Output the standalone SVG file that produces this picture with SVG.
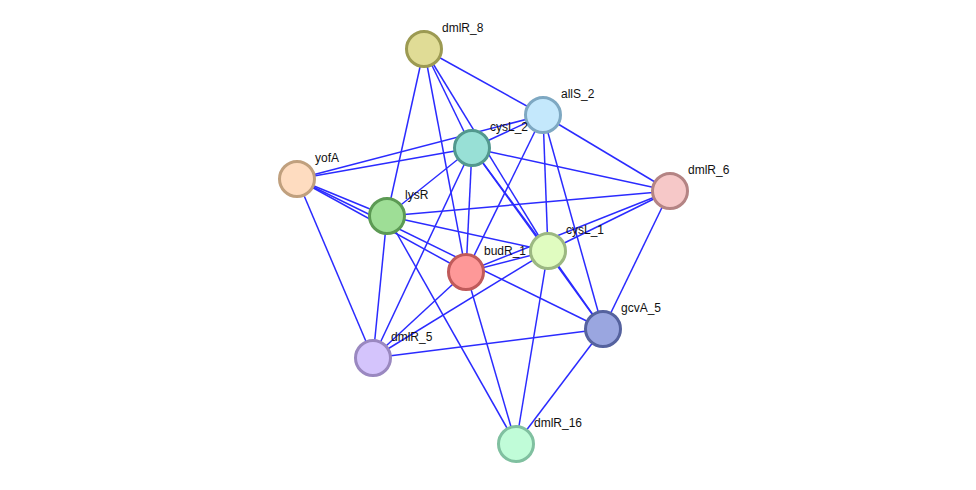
<svg xmlns="http://www.w3.org/2000/svg" width="976" height="490" viewBox="0 0 976 490">
<style>
.e{stroke:#2b2bff;stroke-width:1.5;fill:none}
.n{stroke-width:3}
.t{font-family:"Liberation Sans",Arial,sans-serif;font-size:12px;fill:#111}
</style>
<rect width="976" height="490" fill="#fff"/>
<g id="edges">
<line class="e" x1="424" y1="49" x2="543" y2="115"/>
<line class="e" x1="424" y1="49" x2="472" y2="148"/>
<line class="e" x1="424" y1="49" x2="387" y2="216"/>
<line class="e" x1="424" y1="49" x2="466" y2="272"/>
<line class="e" x1="424" y1="49" x2="548" y2="251"/>
<line class="e" x1="543" y1="115" x2="472" y2="148"/>
<line class="e" x1="543" y1="115" x2="297" y2="179"/>
<line class="e" x1="543" y1="115" x2="670" y2="191"/>
<line class="e" x1="543" y1="115" x2="548" y2="251"/>
<line class="e" x1="543" y1="115" x2="603" y2="329"/>
<line class="e" x1="543" y1="115" x2="466" y2="272"/>
<line class="e" x1="472" y1="148" x2="297" y2="179"/>
<line class="e" x1="472" y1="148" x2="670" y2="191"/>
<line class="e" x1="472" y1="148" x2="387" y2="216"/>
<line class="e" x1="472" y1="148" x2="466" y2="272"/>
<line class="e" x1="472" y1="148" x2="548" y2="251"/>
<line class="e" x1="472" y1="148" x2="603" y2="329"/>
<line class="e" x1="472" y1="148" x2="373" y2="358"/>
<line class="e" x1="297" y1="179" x2="387" y2="216"/>
<line class="e" x1="297" y1="179" x2="466" y2="272"/>
<line class="e" x1="297" y1="179" x2="603" y2="329"/>
<line class="e" x1="297" y1="179" x2="373" y2="358"/>
<line class="e" x1="387" y1="216" x2="670" y2="191"/>
<line class="e" x1="387" y1="216" x2="548" y2="251"/>
<line class="e" x1="387" y1="216" x2="373" y2="358"/>
<line class="e" x1="387" y1="216" x2="516" y2="444"/>
<line class="e" x1="670" y1="191" x2="466" y2="272"/>
<line class="e" x1="670" y1="191" x2="548" y2="251"/>
<line class="e" x1="670" y1="191" x2="603" y2="329"/>
<line class="e" x1="548" y1="251" x2="466" y2="272"/>
<line class="e" x1="548" y1="251" x2="603" y2="329"/>
<line class="e" x1="548" y1="251" x2="373" y2="358"/>
<line class="e" x1="548" y1="251" x2="516" y2="444"/>
<line class="e" x1="466" y1="272" x2="373" y2="358"/>
<line class="e" x1="466" y1="272" x2="516" y2="444"/>
<line class="e" x1="603" y1="329" x2="373" y2="358"/>
<line class="e" x1="603" y1="329" x2="516" y2="444"/>
</g>
<g id="dmlR_8"><circle class="n" cx="424" cy="49" r="17.5" fill="#e0dc96" stroke="#9c9a52"/><text class="t" x="442" y="32">dmlR_8</text></g>
<g id="allS_2"><circle class="n" cx="543" cy="115" r="17.5" fill="#c4e8fc" stroke="#7ea8c2"/><text class="t" x="561" y="98">allS_2</text></g>
<g id="cysL_2"><circle class="n" cx="472" cy="148" r="17.5" fill="#98e0d6" stroke="#52988e"/><text class="t" x="490" y="131">cysL_2</text></g>
<g id="yofA"><circle class="n" cx="297" cy="179" r="17.5" fill="#fedcc0" stroke="#c0a07e"/><text class="t" x="315" y="162">yofA</text></g>
<g id="dmlR_6"><circle class="n" cx="670" cy="191" r="17.5" fill="#f6c8c8" stroke="#b48484"/><text class="t" x="688" y="174">dmlR_6</text></g>
<g id="lysR"><circle class="n" cx="387" cy="216" r="17.5" fill="#9ede96" stroke="#5c9a54"/><text class="t" x="405" y="199">lysR</text></g>
<g id="cysL_1"><circle class="n" cx="548" cy="251" r="17.5" fill="#e0fcc0" stroke="#9cb882"/><text class="t" x="566" y="234">cysL_1</text></g>
<g id="budR_1"><circle class="n" cx="466" cy="272" r="17.5" fill="#fe9898" stroke="#c05a5a"/><text class="t" x="484" y="255">budR_1</text></g>
<g id="gcvA_5"><circle class="n" cx="603" cy="329" r="17.5" fill="#9aa6e0" stroke="#55629e"/><text class="t" x="621" y="312">gcvA_5</text></g>
<g id="dmlR_5"><circle class="n" cx="373" cy="358" r="17.5" fill="#d4c4fc" stroke="#9a88c0"/><text class="t" x="391" y="341">dmlR_5</text></g>
<g id="dmlR_16"><circle class="n" cx="516" cy="444" r="17.5" fill="#c0fcd8" stroke="#80c0a0"/><text class="t" x="534" y="427">dmlR_16</text></g>
</svg>
